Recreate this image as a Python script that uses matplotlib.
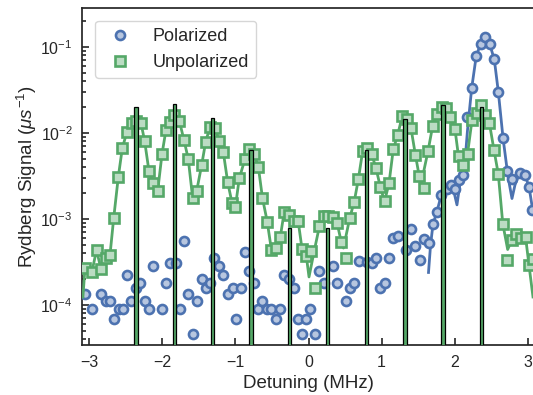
import matplotlib
matplotlib.use("Agg")
import matplotlib.pyplot as plt
import numpy as np

plt.rcParams['font.family'] = ['Liberation Sans', 'DejaVu Sans']
plt.rcParams['mathtext.fontset'] = 'custom'
plt.rcParams['mathtext.rm'] = 'Liberation Sans'
plt.rcParams['mathtext.it'] = 'Liberation Sans:italic'
plt.rcParams['mathtext.bf'] = 'Liberation Sans:bold'

blue = '#4C72B0'
green = '#55A868'
blue_face = '#b7c6df'
green_face = '#bbdcc3'
dark = '#262626'

# polarized data (circles)
pol_x = [-3.055, -2.955, -2.836, -2.774, -2.716, -2.658, -2.593, -2.538, -2.478, -2.419,
         -2.362, -2.296, -2.237, -2.173, -2.121, -2.002, -1.945, -1.890, -1.814, -1.760,
         -1.702, -1.644, -1.583, -1.524, -1.462, -1.405, -1.343, -1.286, -1.220, -1.164,
         -1.107, -1.036, -0.991, -0.929, -0.871, -0.817, -0.745, -0.687, -0.629, -0.570,
         -0.506, -0.447, -0.385, -0.332, -0.264, -0.205, -0.148, -0.092, -0.031, 0.027,
         0.086, 0.150, 0.212, 0.328, 0.390, 0.506, 0.564, 0.625, 0.687, 0.793,
         0.861, 0.925, 0.977, 1.041, 1.096, 1.158, 1.226, 1.335, 1.404, 1.458,
         1.517, 1.583, 1.640, 1.697, 1.756, 1.814, 1.886, 1.943, 1.999, 2.057,
         2.116, 2.170, 2.230, 2.293, 2.353, 2.412, 2.476, 2.539, 2.594, 2.658,
         2.717, 2.778, 2.891, 2.956, 3.009, 3.055]
pol_y = [1.34e-4, 9.06e-5, 1.34e-4, 1.12e-4, 1.12e-4, 6.82e-5, 9.06e-5, 9.06e-5, 2.21e-4, 1.12e-4,
         1.56e-4, 1.78e-4, 1.12e-4, 9.06e-5, 2.84e-4, 9.06e-5, 1.78e-4, 3.08e-4, 3.08e-4, 9.06e-5,
         5.60e-4, 1.34e-4, 4.56e-5, 1.12e-4, 1.99e-4, 1.56e-4, 1.78e-4, 3.49e-4, 2.84e-4, 2.21e-4,
         1.34e-4, 1.56e-4, 6.82e-5, 1.56e-4, 4.13e-4, 2.48e-4, 1.78e-4, 9.06e-5, 1.12e-4, 9.06e-5,
         9.06e-5, 6.82e-5, 9.06e-5, 2.21e-4, 1.99e-4, 1.56e-4, 6.82e-5, 4.56e-5, 6.82e-5, 9.06e-5,
         4.56e-5, 2.48e-4, 1.78e-4, 2.84e-4, 1.78e-4, 1.12e-4, 1.56e-4, 1.78e-4, 3.27e-4, 3.20e-4,
         3.08e-4, 3.49e-4, 1.56e-4, 1.78e-4, 3.49e-4, 5.96e-4, 6.34e-4, 4.36e-4, 7.65e-4, 4.89e-4,
         3.30e-4, 5.82e-4, 5.22e-4, 8.75e-4, 1.22e-3, 1.92e-3, 2.23e-3, 2.47e-3, 2.23e-3, 2.84e-3,
         3.21e-3, 1.52e-2, 3.31e-2, 7.92e-2, 0.108, 0.132, 0.108, 0.0719, 0.0302, 8.82e-3,
         3.61e-3, 2.88e-3, 3.45e-3, 3.21e-3, 2.37e-3, 1.26e-3]

# polarized model curve
pol_fit_x = [1.640, 1.668, 1.702, 1.756, 1.814, 1.886, 1.943, 1.982, 2.029, 2.071,
             2.116, 2.146, 2.173, 2.230, 2.293, 2.353, 2.412, 2.476, 2.539, 2.594,
             2.658, 2.717, 2.747, 2.781, 2.822, 2.891, 2.955, 3.014, 3.068]
pol_fit_y = [2.39e-4, 4.98e-4, 8.75e-4, 1.22e-3, 1.90e-3, 2.32e-3, 2.49e-3, 2.17e-3, 1.46e-3, 2.62e-3,
             3.25e-3, 5.55e-3, 1.08e-2, 3.31e-2, 7.92e-2, 0.108, 0.132, 0.108, 0.0719, 0.0302,
             8.82e-3, 3.61e-3, 2.49e-3, 1.73e-3, 2.49e-3, 3.52e-3, 3.29e-3, 2.37e-3, 1.21e-3]

# unpolarized data (squares)
unp_x = [-3.055, -2.959, -2.897, -2.836, -2.774, -2.713, -2.662, -2.599, -2.545, -2.481,
         -2.416, -2.358, -2.290, -2.239, -2.180, -2.121, -2.061, -2.002, -1.948, -1.893,
         -1.834, -1.766, -1.702, -1.643, -1.583, -1.528, -1.460, -1.405, -1.346, -1.278,
         -1.219, -1.164, -1.104, -1.046, -1.000, -0.946, -0.868, -0.809, -0.745, -0.686,
         -0.629, -0.564, -0.506, -0.447, -0.385, -0.332, -0.260, -0.202, -0.141, -0.089,
         -0.030, 0.030, 0.089, 0.150, 0.212, 0.271, 0.331, 0.390, 0.448, 0.506,
         0.564, 0.625, 0.681, 0.741, 0.800, 0.864, 0.923, 0.981, 1.039, 1.100,
         1.159, 1.219, 1.282, 1.350, 1.401, 1.460, 1.513, 1.574, 1.633, 1.697,
         1.760, 1.820, 1.875, 1.934, 2.002, 2.050, 2.116, 2.173, 2.235, 2.299,
         2.358, 2.416, 2.471, 2.535, 2.594, 2.655, 2.709, 2.777, 2.836, 2.900,
         2.966, 3.014, 3.068]
unp_y = [2.66e-4, 2.45e-4, 4.36e-4, 2.62e-4, 3.49e-4, 3.81e-4, 1.03e-3, 3.10e-3, 6.64e-3, 1.035e-2,
         1.30e-2, 1.39e-2, 1.32e-2, 8.01e-3, 3.59e-3, 2.60e-3, 2.12e-3, 5.70e-3, 1.083e-2, 1.35e-2,
         1.62e-2, 1.39e-2, 8.29e-3, 4.98e-3, 1.74e-3, 2.12e-3, 4.25e-3, 7.92e-3, 1.18e-2, 1.134e-2,
         8.07e-3, 5.97e-3, 2.67e-3, 1.55e-3, 1.37e-3, 2.97e-3, 4.98e-3, 6.52e-3, 5.70e-3, 4.06e-3,
         1.75e-3, 9.30e-4, 4.33e-4, 4.62e-4, 6.22e-4, 1.21e-3, 1.11e-3, 9.43e-4, 9.43e-4, 4.52e-4,
         3.71e-4, 4.30e-4, 1.56e-4, 8.29e-4, 1.07e-3, 1.07e-3, 1.05e-3, 9.06e-4, 5.40e-4, 3.49e-4,
         1.03e-3, 1.59e-3, 2.89e-3, 6.23e-3, 6.75e-3, 5.65e-3, 3.89e-3, 2.37e-3, 1.60e-3, 2.59e-3,
         6.52e-3, 9.48e-3, 1.59e-2, 1.44e-2, 1.134e-2, 5.62e-3, 3.16e-3, 2.28e-3, 6.13e-3, 1.21e-2,
         1.65e-2, 1.99e-2, 1.94e-2, 1.55e-2, 1.10e-2, 5.36e-3, 4.21e-3, 5.70e-3, 1.42e-2, 1.72e-2,
         2.12e-2, 1.62e-2, 1.32e-2, 6.34e-3, 3.32e-3, 8.82e-4, 3.34e-4, 5.65e-4, 6.69e-4, 6.04e-4,
         6.22e-4, 2.88e-4, 3.47e-4]

# unpolarized model curve
unp_fit_x = [-3.083, -3.055, -2.959, -2.897, -2.836, -2.774, -2.713, -2.662, -2.599, -2.545,
             -2.481, -2.416, -2.358, -2.290, -2.239, -2.180, -2.121, -2.061, -2.002, -1.948,
             -1.893, -1.834, -1.766, -1.702, -1.643, -1.583, -1.528, -1.460, -1.405, -1.346,
             -1.278, -1.219, -1.164, -1.104, -1.046, -1.000, -0.946, -0.868, -0.809, -0.745,
             -0.686, -0.629, -0.564, -0.506, -0.447, -0.385, -0.332, -0.260, -0.202, -0.141,
             -0.089, -0.030, 0.007, 0.075, 0.150, 0.212, 0.271, 0.331, 0.390, 0.448,
             0.478, 0.564, 0.625, 0.681, 0.741, 0.800, 0.864, 0.923, 0.981, 1.039,
             1.100, 1.159, 1.219, 1.282, 1.350, 1.401, 1.460, 1.513, 1.538, 1.633,
             1.697, 1.760, 1.820, 1.875, 1.934, 2.002, 2.050, 2.091, 2.173, 2.235,
             2.299, 2.358, 2.416, 2.471, 2.535, 2.594, 2.655, 2.722, 2.777, 2.836,
             2.900, 2.966, 3.014, 3.068]
unp_fit_y = [1.24e-4, 2.66e-4, 2.45e-4, 4.36e-4, 2.62e-4, 3.49e-4, 3.81e-4, 1.03e-3, 3.10e-3, 6.64e-3,
             1.035e-2, 1.30e-2, 1.39e-2, 1.32e-2, 8.01e-3, 3.59e-3, 2.60e-3, 2.12e-3, 5.70e-3, 1.083e-2,
             1.35e-2, 1.62e-2, 1.39e-2, 8.29e-3, 4.98e-3, 1.74e-3, 2.12e-3, 4.25e-3, 7.92e-3, 1.18e-2,
             1.134e-2, 8.07e-3, 5.97e-3, 2.67e-3, 1.55e-3, 1.37e-3, 2.97e-3, 4.98e-3, 6.52e-3, 5.70e-3,
             4.06e-3, 1.75e-3, 9.30e-4, 4.33e-4, 4.62e-4, 6.22e-4, 1.21e-3, 1.11e-3, 9.43e-4, 9.43e-4,
             4.52e-4, 3.71e-4, 2.12e-4, 4.13e-4, 8.29e-4, 1.07e-3, 1.07e-3, 1.05e-3, 9.06e-4, 5.40e-4,
             4.60e-4, 1.03e-3, 1.59e-3, 2.89e-3, 6.23e-3, 6.75e-3, 5.65e-3, 3.89e-3, 2.37e-3, 1.60e-3,
             2.59e-3, 6.52e-3, 9.48e-3, 1.59e-2, 1.44e-2, 1.134e-2, 5.62e-3, 3.16e-3, 2.55e-3, 6.13e-3,
             1.21e-2, 1.65e-2, 1.99e-2, 1.94e-2, 1.55e-2, 1.10e-2, 5.36e-3, 3.72e-3, 5.70e-3, 1.42e-2,
             1.72e-2, 2.12e-2, 1.62e-2, 1.32e-2, 6.34e-3, 3.32e-3, 8.82e-4, 4.42e-4, 5.65e-4, 6.69e-4,
             6.04e-4, 6.22e-4, 2.88e-4, 1.24e-4]

# line positions (bars)
bar_x = [-2.358, -1.834, -1.315, -0.786, -0.262, 0.262, 0.790, 1.319, 1.838, 2.364]
bar_h = [1.98e-2, 2.16e-2, 1.48e-2, 6.29e-3, 7.80e-4, 7.80e-4, 6.29e-3, 1.46e-2, 2.12e-2, 1.98e-2]

fig = plt.figure(figsize=(5.33, 3.95), dpi=100)
ax = fig.add_axes([0.1546, 0.1266, 0.8484, 0.8532])

ax.plot(pol_fit_x, pol_fit_y, color=blue, lw=2, zorder=2)
ax.plot(pol_x, pol_y, 'o', ls='none', ms=6.5, mew=1.9, mec=blue, mfc=blue_face,
        label='Polarized', zorder=3)
ax.plot(unp_fit_x, unp_fit_y, color=green, lw=2, zorder=4)
ax.plot(unp_x, unp_y, 's', ls='none', ms=6.5, mew=1.9, mec=green, mfc=green_face,
        label='Unpolarized', zorder=5)
ax.bar(bar_x, bar_h, width=0.045, bottom=1e-6, color=green, edgecolor='black',
       linewidth=0.9, zorder=6)

ax.set_yscale('log')
ax.set_xlim(-3.09, 3.09)
ax.set_ylim(10**-4.465, 10**-0.5465)
ax.set_xticks([-3, -2, -1, 0, 1, 2, 3])

ax.set_xlabel('Detuning (MHz)', fontsize=13.5, color=dark, labelpad=4)
ax.set_ylabel('Rydberg Signal ($\\mu s^{-1}$)', fontsize=13.5, color=dark, labelpad=1)

ax.tick_params(axis='both', which='both', direction='in', colors=dark,
               labelsize=11.5, width=1.2)
ax.tick_params(axis='both', which='major', length=5, pad=7)
ax.tick_params(axis='both', which='minor', length=3)
for s in ax.spines.values():
    s.set_linewidth(1.25)
    s.set_color(dark)

leg = ax.legend(loc='upper left', fontsize=13, numpoints=1, frameon=True,
                borderaxespad=0.7)
leg.get_frame().set_edgecolor('#cccccc')
for t in leg.get_texts():
    t.set_color(dark)

fig.savefig('out.png', dpi=100)
